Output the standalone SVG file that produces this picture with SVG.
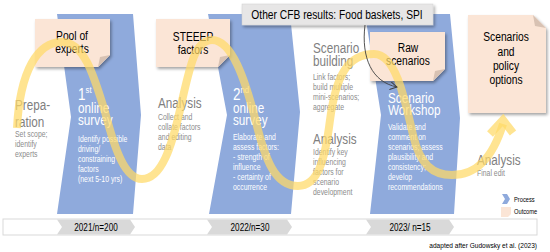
<svg xmlns="http://www.w3.org/2000/svg" width="550" height="252" viewBox="0 0 550 252">
<defs>
<style>
text{font-family:"Liberation Sans",Arial,sans-serif;}
.proc{fill:#8faadc;}
.out{fill:#fbe5d6;filter:url(#sh);}
.fold{fill:#d8c2b3;}
.big{font-size:14.3px;fill:#7f7f7f;}
.sm{font-size:8.4px;fill:#8c8c8c;}
.bigw{font-size:14.3px;fill:#ffffff;}
.smw{font-size:8.4px;fill:#ffffff;}
.ot{font-size:12.5px;fill:#000000;text-anchor:middle;}
.wave{fill:none;stroke:#ffd966;stroke-opacity:0.72;stroke-width:8;}
.tl{fill:#d9d9d9;}
.tlt{font-size:10px;fill:#000000;text-anchor:middle;}
</style>
<filter id="sh" x="-10%" y="-10%" width="130%" height="130%">
<feDropShadow dx="1.5" dy="2" stdDeviation="1.5" flood-color="#000000" flood-opacity="0.35"/>
</filter>
<marker id="ah" markerUnits="userSpaceOnUse" markerWidth="10" markerHeight="10" refX="7" refY="4" orient="auto">
<path d="M0,0 L7,4 L0,8" fill="none" stroke="#404040" stroke-width="1"/>
</marker>
</defs>

<g id="timeline">
<rect x="3" y="219" width="534" height="16" fill="#ffffff" stroke="#d9d9d9" stroke-width="1"/>
<path class="tl" d="M57,219.5 L130,219.5 L135,227 L130,234.5 L57,234.5 L62,227 Z"/>
<path class="tl" d="M207,219.5 L287,219.5 L292,227 L287,234.5 L207,234.5 L212,227 Z"/>
<path class="tl" d="M366,219.5 L449,219.5 L454,227 L449,234.5 L366,234.5 L371,227 Z"/>
<g transform="translate(96,0) scale(0.82,1)"><text class="tlt" x="0" y="231">2021/n=200</text></g>
<g transform="translate(250,0) scale(0.82,1)"><text class="tlt" x="0" y="231">2022/n=30</text></g>
<g transform="translate(410,0) scale(0.82,1)"><text class="tlt" x="0" y="231">2023/ n=15</text></g>
</g>

<g id="preparation">
<g transform="translate(15,0) scale(0.82,1)">
<text class="big" x="0" y="110">Prepa-</text>
<text class="big" x="0" y="127">ration</text>
<text class="sm" x="0" y="137">Set scope;</text>
<text class="sm" x="0" y="147">identify</text>
<text class="sm" x="0" y="157">experts</text>
</g>
</g>

<g id="survey1">
<path class="proc" d="M57,14 L133,14 L141,115 L133,214 L57,214 L71,117 Z"/>
<g transform="translate(78,0) scale(0.82,1)">
<text class="bigw" x="0" y="100"><tspan font-size="16.5">1</tspan><tspan font-size="9.5" dy="-7">st</tspan></text>
<text class="bigw" x="0" y="113">online</text>
<text class="bigw" x="0" y="125">survey</text>
<text class="smw" x="0" y="142">Identify possible</text>
<text class="smw" x="0" y="152">driving/</text>
<text class="smw" x="0" y="162">constraining</text>
<text class="smw" x="0" y="172">factors</text>
<text class="smw" x="0" y="182">(next 5-10 yrs)</text>
</g>
</g>

<g id="analysis1">
<g transform="translate(158,0) scale(0.82,1)">
<text class="big" x="0" y="108">Analysis</text>
<text class="sm" x="0" y="120">Collect and</text>
<text class="sm" x="0" y="130">collate factors</text>
<text class="sm" x="0" y="140">and editing</text>
<text class="sm" x="0" y="150">data</text>
</g>
</g>

<g id="survey2">
<path class="proc" d="M208,14 L290,14 L300,112 L291,214 L209,214 L227,115 Z"/>
<g transform="translate(233,0) scale(0.82,1)">
<text class="bigw" x="0" y="100"><tspan font-size="16.5">2</tspan><tspan font-size="9.5" dy="-7">nd</tspan></text>
<text class="bigw" x="0" y="113">online</text>
<text class="bigw" x="0" y="125">survey</text>
<text class="smw" x="0" y="140">Elaborate and</text>
<text class="smw" x="0" y="150">assess factors:</text>
<text class="smw" x="0" y="160">- strength of</text>
<text class="smw" x="0" y="170">influence</text>
<text class="smw" x="0" y="180">- certainty of</text>
<text class="smw" x="0" y="190">occurrence</text>
</g>
</g>

<g id="scenario-building">
<g transform="translate(313,0) scale(0.82,1)">
<text class="big" x="0" y="53">Scenario</text>
<text class="big" x="0" y="66">building</text>
<text class="sm" x="0" y="80">Link factors;</text>
<text class="sm" x="0" y="90">build multiple</text>
<text class="sm" x="0" y="100">mini-scenarios;</text>
<text class="sm" x="0" y="110">aggregate</text>
<text class="big" x="0" y="144">Analysis</text>
<text class="sm" x="0" y="155">Identify key</text>
<text class="sm" x="0" y="165">influencing</text>
<text class="sm" x="0" y="175">factors for</text>
<text class="sm" x="0" y="185">scenario</text>
<text class="sm" x="0" y="195">development</text>
</g>
</g>

<g id="workshop">
<path class="proc" d="M365,14 L450,14 L460,118 L454,214 L370,214 L381,115 Z"/>
<g transform="translate(388,0) scale(0.82,1)">
<text class="bigw" x="0" y="103" font-size="15.3">Scenario</text>
<text class="bigw" x="0" y="115" font-size="15.3">Workshop</text>
<text class="smw" x="0" y="130">Validate and</text>
<text class="smw" x="0" y="140">comment on</text>
<text class="smw" x="0" y="150">scenarios; assess</text>
<text class="smw" x="0" y="160">plausibility and</text>
<text class="smw" x="0" y="170">consistency;</text>
<text class="smw" x="0" y="180">develop</text>
<text class="smw" x="0" y="190">recommendations</text>
</g>
</g>

<g id="analysis-final">
<g transform="translate(477,0) scale(0.82,1)">
<text class="big" x="0" y="165">Analysis</text>
<text class="sm" x="0" y="176">Final edit</text>
</g>
</g>

<g id="pool-of-experts">
<path class="out" d="M35,19 L110,19 L110,55 L98,67 L35,67 Z"/>
<path class="fold" d="M110,55 L98,67 L100,57 Z"/>
<g transform="translate(72,0) scale(0.82,1)">
<text class="ot" x="0" y="40">Pool of</text>
<text class="ot" x="0" y="53">experts</text>
</g>
</g>

<g id="steeep-factors">
<path class="out" d="M156,19 L230,19 L230,55 L218,67 L156,67 Z"/>
<path class="fold" d="M230,55 L218,67 L220,57 Z"/>
<g transform="translate(193,0) scale(0.82,1)">
<text class="ot" x="0" y="41">STEEEP</text>
<text class="ot" x="0" y="54">factors</text>
</g>
</g>

<g id="raw-scenarios">
<path class="out" d="M370,32 L445,32 L445,69 L433,81 L370,81 Z"/>
<path class="fold" d="M445,69 L433,81 L435,71 Z"/>
<g transform="translate(408,0) scale(0.82,1)">
<text class="ot" x="0" y="52">Raw</text>
<text class="ot" x="0" y="65">scenarios</text>
</g>
</g>

<g id="other-results">
<rect x="242" y="4" width="191" height="21" fill="#e7e6e6" stroke="#d0d0d0" stroke-width="0.5" filter="url(#sh)"/>
<g transform="translate(337,0) scale(0.82,1)">
<text class="ot" x="0" y="19">Other CFB results: Food baskets, SPI</text>
</g>
</g>

<g id="scenarios-policy">
<path class="out" d="M468,15 L533,15 L546,28 L546,113 L468,113 Z"/>
<path class="fold" d="M533,15 L546,28 L535,26 Z"/>
<g transform="translate(506,0) scale(0.82,1)">
<text class="ot" x="0" y="41" font-size="14.5">Scenarios</text>
<text class="ot" x="0" y="56" font-size="14.5">and</text>
<text class="ot" x="0" y="70" font-size="14.5">policy</text>
<text class="ot" x="0" y="84" font-size="14.5">options</text>
</g>
</g>

<g id="connectors">
<path class="wave" d="M17,128 C20,70 38,42 62,42 C85,42 95,80 105,112 C115,150 125,179 142,179 C162,179 172,145 180,110 C190,65 195,40 212,40 C232,40 245,80 255,118 C265,160 275,186 298,186 C318,186 325,160 330,120 C336,75 348,54 374,54 C395,54 404,95 413,135 C420,165 433,175 452,175 C475,175 492,160 503,124"/>
<polyline class="wave" points="490,134 503,120 513,133" stroke-linejoin="miter"/>
<path d="M365,25 C361,58 372,82 397,87" fill="none" stroke="#404040" stroke-width="0.9" marker-end="url(#ah)"/>
</g>

<g id="legend">
<path class="proc" d="M502,194 L507,194 L510,199 L507,204 L502,204 L505,199 Z"/>
<path fill="#fbe5d6" d="M501,207 L511,207 L511,214 L508,217 L501,217 Z"/>
<g transform="translate(514,0) scale(0.82,1)">
<text x="0" y="202" font-size="7" fill="#000000">Process</text>
<text x="0" y="214" font-size="7" fill="#000000">Outcome</text>
</g>
<g transform="translate(537,0) scale(0.82,1)">
<text x="0" y="248" font-size="8" fill="#000000" text-anchor="end">adapted after Gudowsky et al. (2023)</text>
</g>
</g>
</svg>
